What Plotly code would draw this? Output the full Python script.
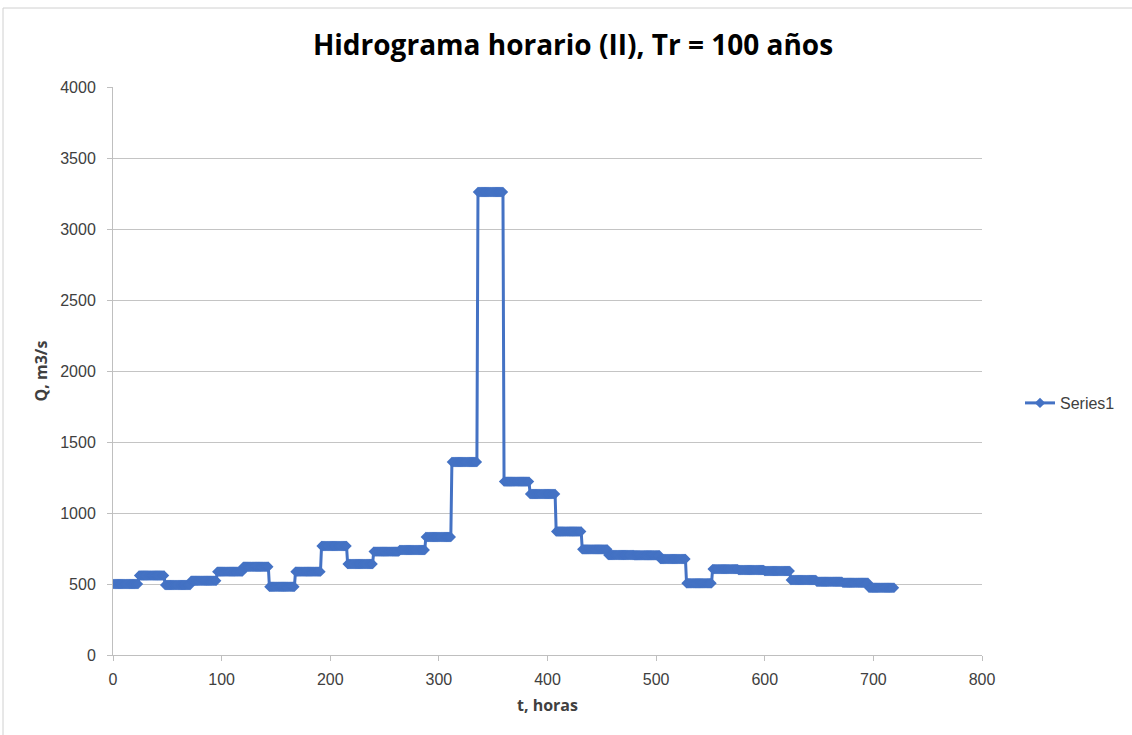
import plotly.graph_objects as go

# Daily discharge values (m3/s), each held constant for 24 hourly steps
daily_q = [500, 560, 493, 523, 587, 622, 481, 587, 768, 641,
           728, 739, 831, 1359, 3261, 1221, 1134, 870, 744, 704,
           702, 676, 505, 605, 599, 592, 528, 516, 509, 474]
hours_per_day = 24

hours = []
q = []
for d, v in enumerate(daily_q):
    for h in range(hours_per_day):
        hours.append(d * hours_per_day + h)
        q.append(v)

x_ticks = [0, 100, 200, 300, 400, 500, 600, 700, 800]
y_ticks = [0, 500, 1000, 1500, 2000, 2500, 3000, 3500, 4000]

blue = "#4472C4"
title_font = "Open Sans, Noto Sans, sans-serif"
tick_font = "Liberation Sans, Arial, sans-serif"

fig = go.Figure()
fig.add_trace(go.Scatter(
    x=hours, y=q, mode="lines+markers", name="Series1",
    line=dict(color=blue, width=3),
    marker=dict(symbol="diamond", size=8, color=blue),
))

L, R, T, B = 113, 150, 87, 80
W, H = 1132, 735
pw, ph = W - L - R, H - T - B

fig.update_layout(
    width=W, height=H,
    margin=dict(l=L, r=R, t=T, b=B),
    paper_bgcolor="white", plot_bgcolor="white",
    font=dict(family=tick_font, size=16, color="#404040"),
    title=dict(text="<b>Hidrograma horario (II), Tr = 100 años</b>",
               x=573 / W, xanchor="center", y=1 - 45 / H, yanchor="middle",
               font=dict(size=28, color="black", family=title_font)),
    showlegend=True,
    legend=dict(x=(1020 - L) / pw, y=(655 - 403) / ph, xanchor="left", yanchor="middle",
                font=dict(size=16, color="#404040", family=tick_font),
                bgcolor="rgba(0,0,0,0)"),
    xaxis=dict(range=[0, 800], tickvals=x_ticks, showgrid=False,
               showline=True, linecolor="#bfbfbf", linewidth=1,
               ticks="outside", ticklen=5, tickcolor="#bfbfbf",
               zeroline=False, ticklabelstandoff=5,
               tickfont=dict(size=16, family=tick_font, color="#404040"),
               title=dict(text="<b>t, horas</b>",
                          font=dict(size=16, color="#404040", family=title_font),
                          standoff=12)),
    yaxis=dict(range=[0, 4000], tickvals=y_ticks, showgrid=True, gridcolor="#c4c4c4",
               gridwidth=1, showline=True, linecolor="#bfbfbf", linewidth=1,
               ticks="outside", ticklen=5, tickcolor="#bfbfbf",
               zeroline=False, ticklabelstandoff=8,
               tickfont=dict(size=16, family=tick_font, color="#404040"),
               title=dict(text="<b>Q, m3/s</b>",
                          font=dict(size=16, color="#404040", family=title_font),
                          standoff=8)),
    shapes=[dict(type="rect", xref="paper", yref="paper",
                 x0=(3 - L) / pw, x1=1.3, y0=-0.3, y1=(655 - 8) / ph,
                 line=dict(color="#d0d0d0", width=1), layer="below")],
)

fig.write_html("out.html", config={"displayModeBar": False},
               post_script="document.body.style.margin='0px';")
